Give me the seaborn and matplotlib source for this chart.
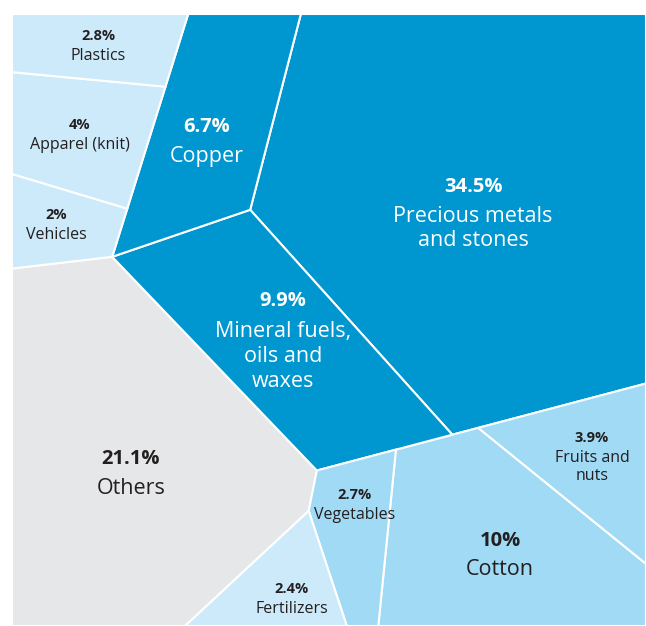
import numpy as np
import matplotlib.pyplot as plt
import seaborn as sns
from matplotlib.patches import Polygon

# data
categories = ["Precious metals\nand stones", "Others", "Cotton",
              "Mineral fuels,\noils and\nwaxes", "Copper", "Apparel (knit)",
              "Fruits and\nnuts", "Plastics", "Vegetables", "Fertilizers",
              "Vehicles"]
shares = [34.5, 21.1, 10, 9.9, 6.7, 4, 3.9, 2.8, 2.7, 2.4, 2]
groups = ["metals", "other", "crops", "metals", "metals", "goods",
          "crops", "goods", "crops", "fert", "goods"]
tones = ["dark", "grey", "mid", "dark", "dark", "light",
         "mid", "light", "mid", "light", "light"]

# layout (pixels, y down): generator sites of the cells and label centres
seeds_x = [462, 131, 500, 284, 207, 89, 577, 98, 350, 292, 61]
seeds_y = [186, 474, 550, 346, 120, 141, 455, 46, 535, 599, 234]
label_x = [473, 131, 500, 283, 207, 80, 592, 98, 355, 292, 56]
label_y = [214, 474, 555, 342, 142, 135, 457, 46, 505, 599, 225]
group_seeds = {"goods": (80, 120), "metals": (326, 197), "crops": (395, 458),
               "other": (113, 401), "fert": (220, 516)}
frame = (12, 646, 14, 626)

palette = {"dark": "#0096cf", "mid": "#a0daf5",
           "light": "#cdeafa", "grey": "#e6e7e8"}
ink = {"dark": "white", "mid": "#231f20", "light": "#231f20", "grey": "#231f20"}


def clip(poly, a, b):
    """keep the part of a convex polygon with a.p <= b"""
    out = []
    n = len(poly)
    for k in range(n):
        p, q = poly[k], poly[(k + 1) % n]
        fp, fq = a @ p - b, a @ q - b
        if fp <= 0:
            out.append(p)
        if fp * fq < 0:
            out.append(p + fp / (fp - fq) * (q - p))
    return np.array(out)


def area_of(poly):
    if len(poly) < 3:
        return 0.0
    x, y = poly[:, 0], poly[:, 1]
    return abs((x * np.roll(y, -1) - np.roll(x, -1) * y).sum()) / 2


def power_cells(region, sites, w):
    cells = []
    for i, si in enumerate(sites):
        poly = region.copy()
        for j, sj in enumerate(sites):
            if i == j or len(poly) < 3:
                continue
            poly = clip(poly, 2 * (sj - si), sj @ sj - si @ si - w[j] + w[i])
        cells.append(poly)
    return cells


def voronoi_split(region, sites, values, steps=1500):
    """power diagram of region with cell areas proportional to values"""
    if len(sites) == 1:
        return [region]
    target = np.array(values) / sum(values) * area_of(region)
    w = np.zeros(len(sites))
    for _ in range(steps):
        areas = np.array([area_of(c) for c in power_cells(region, sites, w)])
        w += 0.25 * (target - areas)
        w -= w.mean()
    return power_cells(region, sites, w)


x0, x1, y0, y1 = frame
box = np.array([[x0, y0], [x1, y0], [x1, y1], [x0, y1]], float)
names = list(group_seeds)
gsites = np.array([group_seeds[g] for g in names], float)
gvalues = [sum(v for v, g in zip(shares, groups) if g == n) for n in names]
gcells = dict(zip(names, voronoi_split(box, gsites, gvalues)))

cells = [None] * len(shares)
for n in names:
    idx = [i for i, g in enumerate(groups) if g == n]
    sites = np.array([[seeds_x[i], seeds_y[i]] for i in idx], float)
    for i, c in zip(idx, voronoi_split(gcells[n], sites, [shares[i] for i in idx])):
        cells[i] = c

sns.set_theme(style="white")
plt.rcParams["font.family"] = ["Open Sans", "DejaVu Sans"]

fig = plt.figure(figsize=(6.46, 6.26), dpi=100)
ax = fig.add_axes([0, 0, 1, 1])
ax.set_xlim(0, 646)
ax.set_ylim(626, 0)
ax.axis("off")

for i, poly in enumerate(cells):
    ax.add_patch(Polygon(poly, closed=True, facecolor=palette[tones[i]],
                         edgecolor="white", linewidth=1.5))
    big = shares[i] >= 6
    nl = categories[i].count("\n")
    gap, sp = (29, 26) if big else (20, 19)
    top = label_y[i] - (gap + nl * sp) / 2
    ax.text(label_x[i], top, f"{shares[i]:g}%", ha="center", va="center",
            fontsize=14.5 if big else 10.5, fontweight="bold",
            color=ink[tones[i]])
    ax.text(label_x[i], top + gap + nl * sp / 2, categories[i],
            ha="center", va="center", fontsize=15.5 if big else 11.5,
            color=ink[tones[i]], linespacing=1.25 if big else 1.18)

fig.savefig("out.png", dpi=100)
